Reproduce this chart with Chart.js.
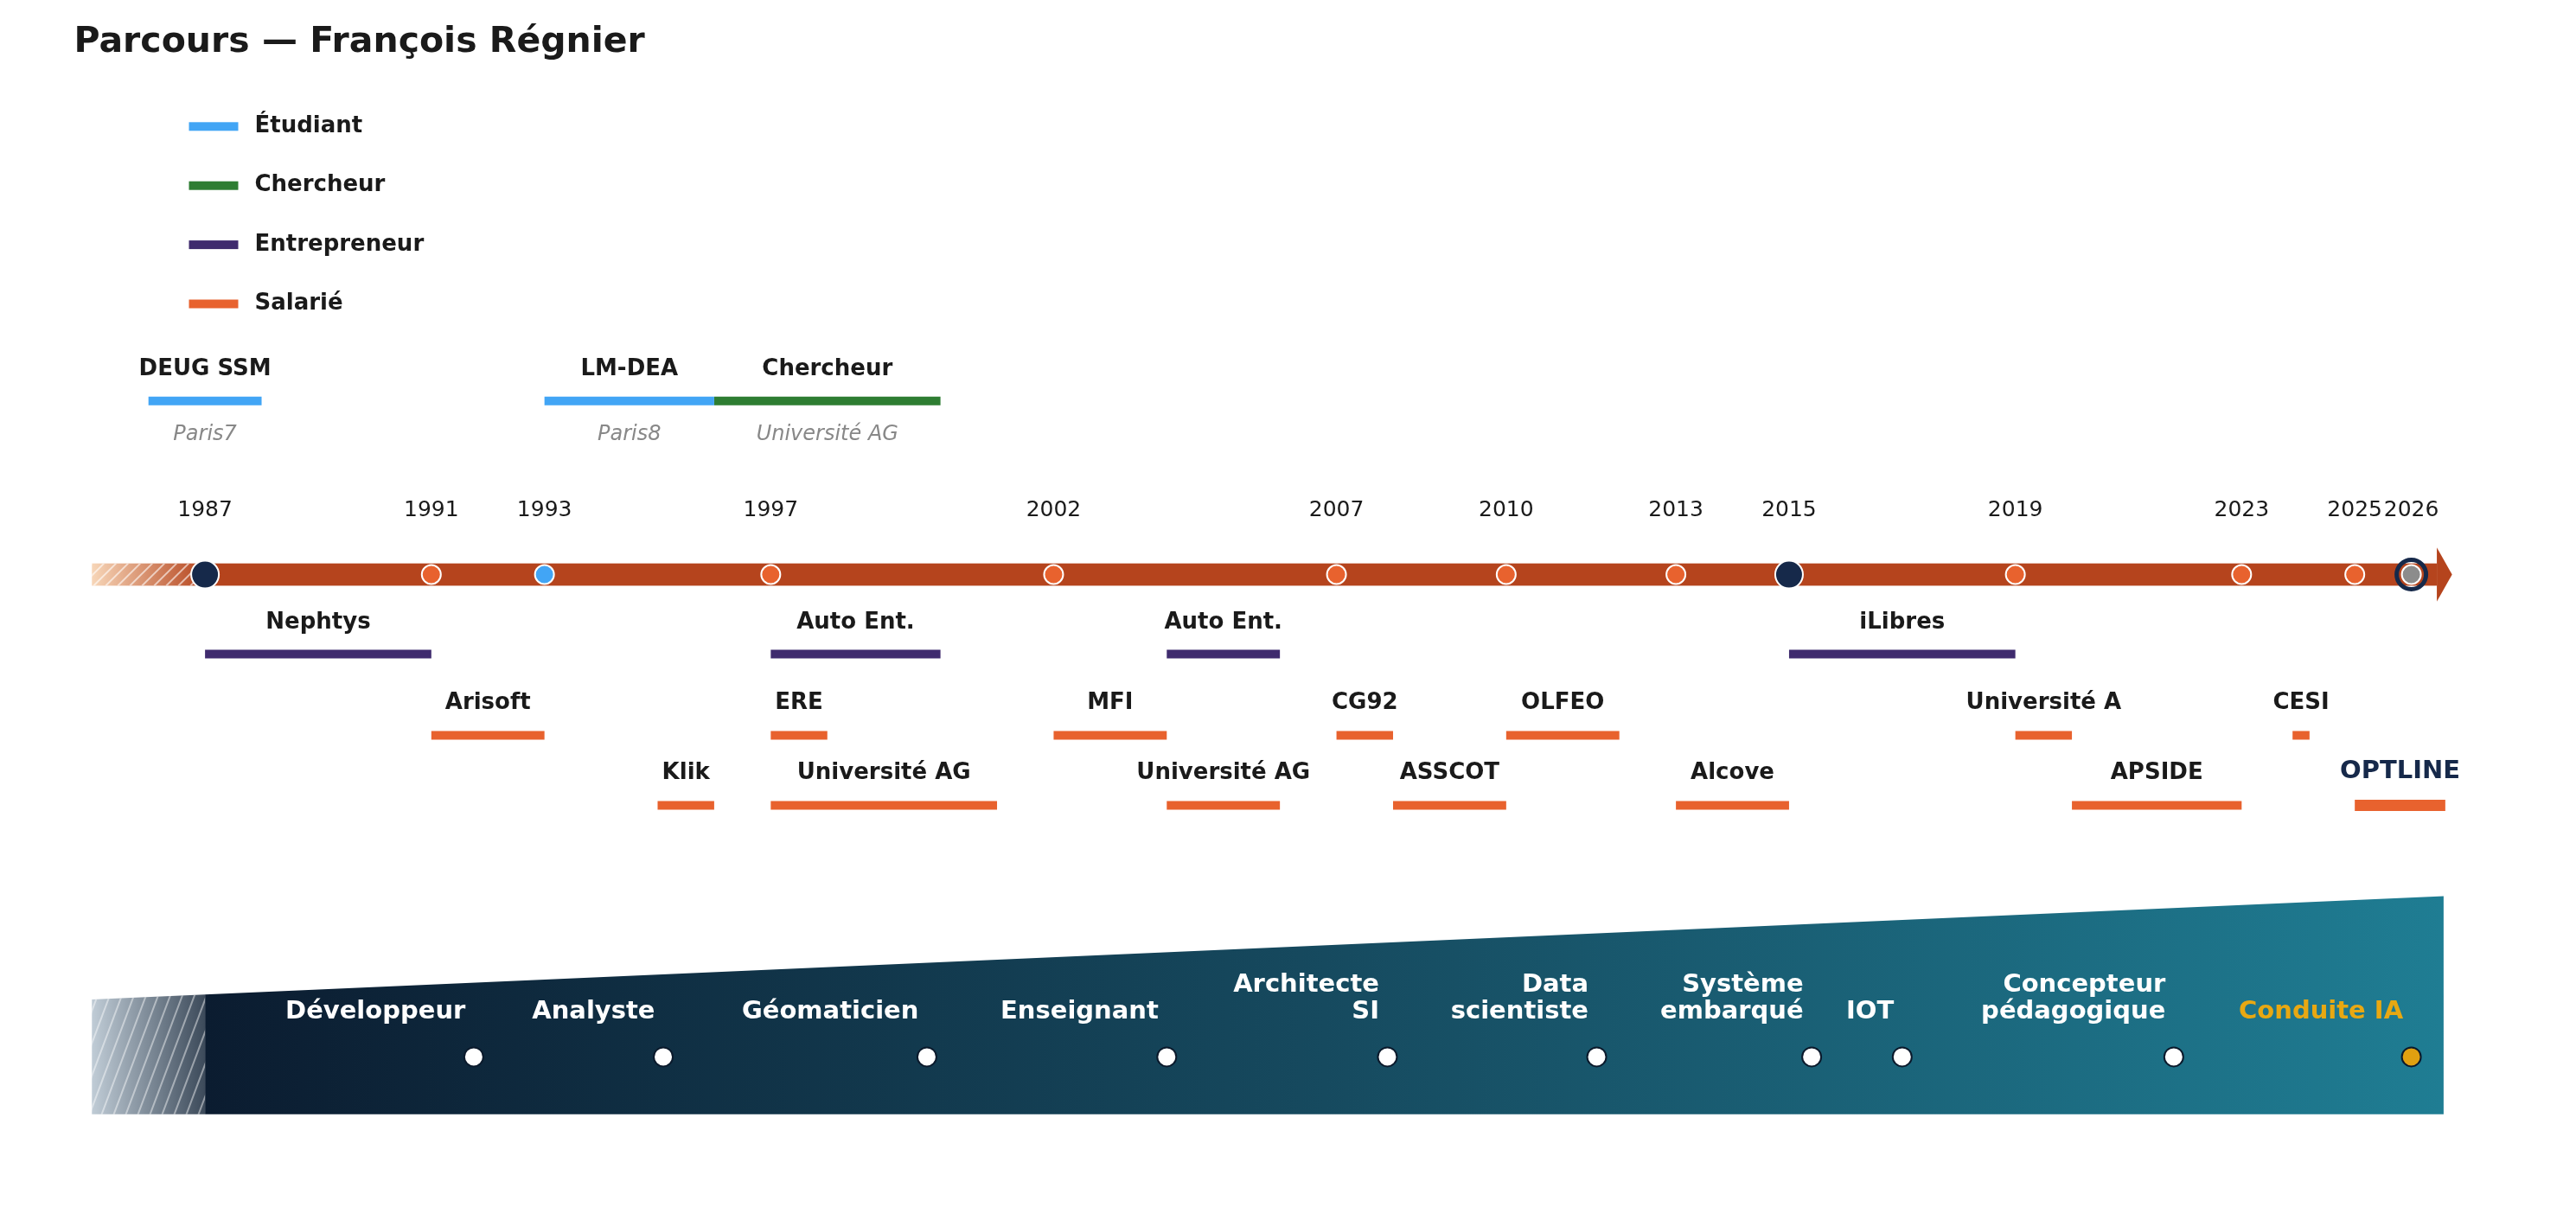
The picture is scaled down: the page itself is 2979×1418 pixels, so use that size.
<!DOCTYPE html>
<html><head><meta charset="utf-8">
<script src="https://cdn.jsdelivr.net/npm/chart.js@4"></script>
<style>html,body{margin:0;padding:0;background:#fff}#wrap{width:2979px;height:1418px}</style>
</head><body><div id="wrap"><canvas id="c"></canvas></div>
<script>
// timeline years
const years = [1987, 1991, 1993, 1997, 2002, 2007, 2010, 2013, 2015, 2019, 2023, 2025, 2026];
const yearKinds = ["key", "sal", "etu", "sal", "sal", "sal", "sal", "sal", "key", "sal", "sal", "sal", "now"];

// top row: studies / research
const studyNames = ["DEUG SSM", "LM-DEA", "Chercheur"];
const studyStart = [1986, 1993, 1996];
const studyEnd = [1988, 1996, 2000];
const studyKind = ["etu", "etu", "che"];
const studyPlace = ["Paris7", "Paris8", "Université AG"];

// entrepreneur row
const entNames = ["Nephtys", "Auto Ent.", "Auto Ent.", "iLibres"];
const entStart = [1987, 1997, 2004, 2015];
const entEnd = [1991, 2000, 2006, 2019];

// salarié rows
const sal1Names = ["Arisoft", "ERE", "MFI", "CG92", "OLFEO", "Université A", "CESI"];
const sal1Start = [1991, 1997, 2002, 2007, 2010, 2019, 2023.9];
const sal1End = [1993, 1998, 2004, 2008, 2012, 2020, 2024.2];
const sal2Names = ["Klik", "Université AG", "Université AG", "ASSCOT", "Alcove", "APSIDE", "OPTLINE"];
const sal2Start = [1995, 1997, 2004, 2008, 2013, 2020, 2025];
const sal2End = [1996, 2001, 2006, 2010, 2015, 2023, 2026.6];

// métiers
const jobNames = [["Développeur"], ["Analyste"], ["Géomaticien"], ["Enseignant"], ["Architecte", "SI"], ["Data", "scientiste"], ["Système", "embarqué"], ["IOT"], ["Concepteur", "pédagogique"], ["Conduite IA"]];
const jobYears = [1991.75, 1995.1, 1999.76, 2004, 2007.9, 2011.6, 2015.4, 2017, 2021.8, 2026];

const legendNames = ["Étudiant", "Chercheur", "Entrepreneur", "Salarié"];
const C = {etu: "#42a5f5", che: "#2e7d32", ent: "#3f2b6e", sal: "#e8622e", key: "#16294a", now: "#8c8c8c"};
const S = 1.9;
const F = "DejaVu Sans";
const AXIS_Y = 349, TOP_Y = 240, ENT_Y = 399, S1_Y = 450, S2_Y = 494, JOB_Y = 652;

function seg(s, e, y, col, w) {
  return {data: [{x: s, y: y}, {x: e, y: y}], showLine: true, borderColor: col, borderWidth: w,
          pointRadius: 0, borderCapStyle: "butt", order: 2};
}
const datasets = [];
studyNames.forEach((n, i) => datasets.push(seg(studyStart[i], studyEnd[i], TOP_Y, C[studyKind[i]], 10)));
entNames.forEach((n, i) => datasets.push(seg(entStart[i], entEnd[i], ENT_Y, C.ent, 10)));
sal1Names.forEach((n, i) => datasets.push(seg(sal1Start[i], sal1End[i], S1_Y, C.sal, 10)));
sal2Names.forEach((n, i) => datasets.push(seg(sal2Start[i], sal2End[i], S2_Y, C.sal, n === "OPTLINE" ? 13 : 10)));
datasets.push({data: years.map(y => ({x: y, y: AXIS_Y})), order: 1,
  pointRadius: yearKinds.map(k => k === "key" ? 16 : 11),
  pointBackgroundColor: yearKinds.map(k => C[k]), pointBorderColor: "#fff", pointBorderWidth: 2});
datasets.push({data: [{x: 2026, y: AXIS_Y}], order: 0, pointRadius: 17, pointBackgroundColor: "rgba(0,0,0,0)",
  pointBorderColor: C.key, pointBorderWidth: 5});
datasets.push({data: jobYears.map(y => ({x: y, y: JOB_Y})), order: 0,
  pointRadius: 11, pointBackgroundColor: jobYears.map((y, i) => i === jobYears.length - 1 ? "#e0a010" : "#fff"),
  pointBorderColor: "#0b1a2c", pointBorderWidth: 2});

const deco = {
  id: "deco",
  beforeDatasetsDraw(chart) {
    const ctx = chart.ctx, X = v => chart.scales.x.getPixelForValue(v), Y = v => chart.scales.y.getPixelForValue(v);
    // bottom band
    const l = X(1985), h = X(1987), r = X(2026.57);
    const topAt = x => Y(616 + (551 - 616) * (x - l) / (r - l));
    ctx.save();
    let g = ctx.createLinearGradient(h, 0, r, 0);
    g.addColorStop(0, "#0b1c30"); g.addColorStop(0.5, "#164a5f"); g.addColorStop(1, "#1f7d93");
    ctx.fillStyle = g;
    ctx.beginPath(); ctx.moveTo(h, topAt(h)); ctx.lineTo(r, topAt(r)); ctx.lineTo(r, Y(688)); ctx.lineTo(h, Y(688)); ctx.closePath(); ctx.fill();
    g = ctx.createLinearGradient(l, 0, h, 0);
    g.addColorStop(0, "#c0ccd6"); g.addColorStop(1, "#3c4a5a");
    ctx.fillStyle = g;
    ctx.beginPath(); ctx.moveTo(l, topAt(l)); ctx.lineTo(h, topAt(h)); ctx.lineTo(h, Y(688)); ctx.lineTo(l, Y(688)); ctx.closePath(); ctx.fill();
    ctx.clip();
    ctx.strokeStyle = "rgba(255,255,255,0.45)"; ctx.lineWidth = 2;
    for (let x = l - 200; x < h + 20; x += 14) { ctx.beginPath(); ctx.moveTo(x, Y(690)); ctx.lineTo(x + 55, Y(610)); ctx.stroke(); }
    ctx.restore();
    // timeline bar + arrow
    ctx.save();
    const t = Y(342), b = Y(356);
    ctx.fillStyle = "#b5441d";
    ctx.fillRect(h, t, X(2026.45) - h, b - t);
    ctx.beginPath(); ctx.moveTo(X(2026.45), Y(332)); ctx.lineTo(X(2026.72), Y(349)); ctx.lineTo(X(2026.45), Y(366)); ctx.closePath(); ctx.fill();
    g = ctx.createLinearGradient(l, 0, h, 0);
    g.addColorStop(0, "#f7d6b8"); g.addColorStop(1, "#b5441d");
    ctx.fillStyle = g; ctx.fillRect(l, t, h - l, b - t);
    ctx.beginPath(); ctx.rect(l, t, h - l, b - t); ctx.clip();
    ctx.strokeStyle = "rgba(255,255,255,0.6)"; ctx.lineWidth = 2;
    for (let x = l - 40; x < h; x += 14) { ctx.beginPath(); ctx.moveTo(x, b); ctx.lineTo(x + 26, t); ctx.stroke(); }
    ctx.restore();
  },
  afterDatasetsDraw(chart) {
    const ctx = chart.ctx, X = v => chart.scales.x.getPixelForValue(v), Y = v => chart.scales.y.getPixelForValue(v);
    const txt = (s, x, y, font, col, align) => {
      ctx.font = font; ctx.fillStyle = col; ctx.textAlign = align || "center"; ctx.textBaseline = "middle"; ctx.fillText(s, x, y);
    };
    const bold = n => "bold " + Math.round(n * S) + "px '" + F + "'";
    ctx.save();
    txt("Parcours — François Régnier", 45 * S, 26 * S, bold(21.5), "#1a1a1a", "left");
    legendNames.forEach((n, i) => {
      ctx.fillStyle = [C.etu, C.che, C.ent, C.sal][i];
      ctx.fillRect(115 * S, (77 + 36 * i) * S - 5, 30 * S, 10);
      txt(n, 155 * S, (77 + 36 * i) * S, bold(13.5), "#1a1a1a", "left");
    });
    studyNames.forEach((n, i) => {
      const c = X((studyStart[i] + studyEnd[i]) / 2);
      txt(n, c, Y(220), bold(13.5), "#1a1a1a");
      txt(studyPlace[i], c, Y(261), "italic " + Math.round(12.5 * S) + "px '" + F + "'", "#888");
    });
    years.forEach(y => txt(String(y), X(y), Y(309), Math.round(13 * S) + "px '" + F + "'", "#1a1a1a"));
    entNames.forEach((n, i) => txt(n, X((entStart[i] + entEnd[i]) / 2), Y(379), bold(13.5), "#1a1a1a"));
    sal1Names.forEach((n, i) => txt(n, X((sal1Start[i] + sal1End[i]) / 2), Y(430), bold(13.5), "#1a1a1a"));
    sal2Names.forEach((n, i) => {
      const opt = n === "OPTLINE";
      txt(n, X((sal2Start[i] + sal2End[i]) / 2), Y(opt ? 473 : 474), bold(opt ? 15 : 13.5), opt ? C.key : "#1a1a1a");
    });
    jobNames.forEach((lines, i) => {
      const last = i === jobNames.length - 1;
      const x = X(jobYears[i]) - 5 * S;
      lines.forEach((s, k) => txt(s, x, Y(624 - 17 * (lines.length - 1 - k)), bold(15), last ? "#e8a812" : "#fff", "right"));
    });
    ctx.restore();
  }
};

new Chart("c", {
  type: "scatter",
  data: {datasets: datasets},
  options: {
    responsive: true, maintainAspectRatio: false, animation: false,
    layout: {padding: 0},
    plugins: {legend: {display: false}, tooltip: {enabled: false}, title: {display: false}},
    scales: {
      x: {type: "linear", display: false, min: 1983.712, max: 2028.574},
      y: {type: "linear", display: false, min: 0, max: 746.3, reverse: true}
    }
  },
  plugins: [deco]
});
</script></body></html>
